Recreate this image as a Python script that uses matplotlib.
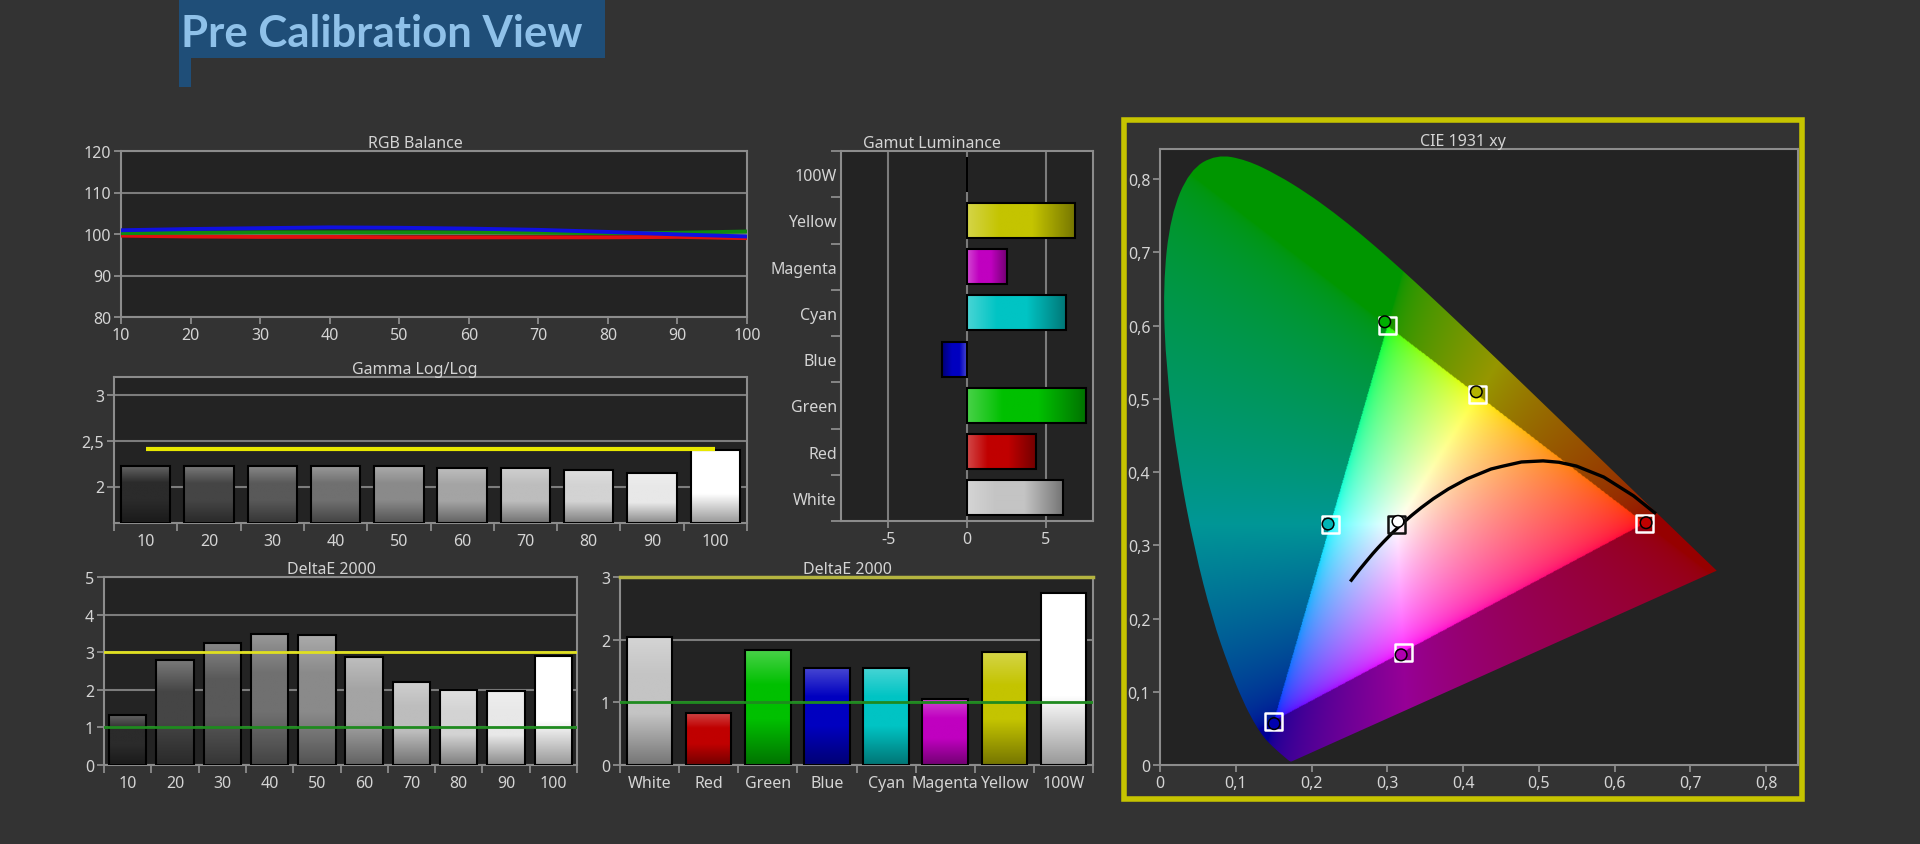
import numpy as np
import matplotlib
matplotlib.use('Agg')
import matplotlib.pyplot as plt
from matplotlib.patches import Rectangle, PathPatch
from matplotlib.path import Path
from matplotlib.colors import to_rgb
from matplotlib.ticker import FixedLocator, FuncFormatter

plt.rcParams['font.family'] = ['Noto Sans', 'DejaVu Sans']
plt.rcParams['axes.unicode_minus'] = False

# ---------------- data ----------------
rgb_x = [10, 20, 30, 40, 50, 60, 70, 80, 90, 100]
rgb_red = [99.6, 99.4, 99.3, 99.3, 99.2, 99.2, 99.2, 99.2, 99.3, 99.0]
rgb_green = [100.2, 100.3, 100.4, 100.4, 100.4, 100.4, 100.3, 100.2, 100.3, 100.6]
rgb_blue = [100.9, 101.2, 101.4, 101.6, 101.5, 101.3, 101.0, 100.5, 99.9, 99.4]

gray_labels = ['10', '20', '30', '40', '50', '60', '70', '80', '90', '100']
gray_colors = ['#2b2b2b', '#454545', '#595959', '#707070', '#8a8a8a',
               '#a4a4a4', '#bdbdbd', '#d3d3d3', '#e8e8e8', '#ffffff']
gamma_values = [2.23, 2.22, 2.22, 2.22, 2.22, 2.20, 2.20, 2.185, 2.15, 2.395]
gamma_target = 2.41

gamut_labels = ['100W', 'Yellow', 'Magenta', 'Cyan', 'Blue', 'Green', 'Red', 'White']
gamut_values = [0.0, 6.86, 2.53, 6.3, -1.57, 7.55, 4.37, 6.07]
gamut_colors = ['#ffffff', '#c4c400', '#c000c0', '#00c4c4', '#0000c0', '#00c000', '#c00000', '#c4c4c4']

de_gray_values = [1.34, 2.79, 3.25, 3.49, 3.46, 2.87, 2.21, 2.00, 1.97, 2.90]

de_color_labels = ['White', 'Red', 'Green', 'Blue', 'Cyan', 'Magenta', 'Yellow', '100W']
de_color_values = [2.05, 0.83, 1.83, 1.55, 1.55, 1.06, 1.81, 2.75]
de_color_colors = ['#c4c4c4', '#c00000', '#00c000', '#0000c0', '#00c4c4', '#c000c0', '#c4c400', '#ffffff']

de_limit_high = 3
de_limit_low = 1

# CIE 1931 spectral locus (380-700 nm)
locus_x = [0.1741, 0.1738, 0.1733, 0.1726, 0.1714, 0.1689, 0.1644, 0.1566, 0.1440, 0.1355,
           0.1241, 0.1096, 0.0913, 0.0687, 0.0454, 0.0235, 0.0082, 0.0039, 0.0139, 0.0389,
           0.0743, 0.1142, 0.1547, 0.1929, 0.2296, 0.2658, 0.3016, 0.3373, 0.3731, 0.4087,
           0.4441, 0.4788, 0.5125, 0.5448, 0.5752, 0.6029, 0.6270, 0.6482, 0.6658, 0.6801,
           0.6915, 0.7006, 0.7079, 0.7140, 0.7190, 0.7230, 0.7260, 0.7300, 0.7320, 0.7347]
locus_y = [0.0050, 0.0049, 0.0048, 0.0048, 0.0051, 0.0069, 0.0109, 0.0177, 0.0297, 0.0399,
           0.0578, 0.0868, 0.1327, 0.2007, 0.2950, 0.4127, 0.5384, 0.6548, 0.7502, 0.8120,
           0.8338, 0.8262, 0.8059, 0.7816, 0.7543, 0.7243, 0.6923, 0.6589, 0.6245, 0.5896,
           0.5547, 0.5202, 0.4866, 0.4544, 0.4242, 0.3965, 0.3725, 0.3514, 0.3340, 0.3197,
           0.3083, 0.2993, 0.2920, 0.2859, 0.2809, 0.2770, 0.2740, 0.2700, 0.2680, 0.2653]

# Planckian locus (1000 K ... 25000 K)
planck_x = [0.6528, 0.6251, 0.5857, 0.5496, 0.5267, 0.5056, 0.4770, 0.4520, 0.4369, 0.4053,
            0.3805, 0.3608, 0.3451, 0.3325, 0.3221, 0.3135, 0.3064, 0.2952, 0.2869, 0.2807,
            0.2722, 0.2637, 0.2565, 0.2525]
planck_y = [0.3444, 0.3674, 0.3931, 0.4081, 0.4133, 0.4152, 0.4137, 0.4079, 0.4041, 0.3907,
            0.3768, 0.3636, 0.3516, 0.3411, 0.3318, 0.3236, 0.3166, 0.3048, 0.2956, 0.2884,
            0.2779, 0.2672, 0.2577, 0.2523]

point_names = ['Red', 'Green', 'Blue', 'Cyan', 'Magenta', 'Yellow', 'White']
target_x = [0.640, 0.300, 0.150, 0.2247, 0.3209, 0.4193, 0.3127]
target_y = [0.330, 0.600, 0.060, 0.3287, 0.1542, 0.5053, 0.3290]
measured_x = [0.6415, 0.2966, 0.1506, 0.2218, 0.3182, 0.4174, 0.3141]
measured_y = [0.3308, 0.6051, 0.0565, 0.3290, 0.1504, 0.5095, 0.3326]
point_colors = ['#c00000', '#00b000', '#0000b0', '#00b4b4', '#b000b0', '#b4b400', '#ffffff']
target_edge = ['#ffffff', '#ffffff', '#ffffff', '#ffffff', '#ffffff', '#ffffff', '#111111']

# ---------------- style ----------------
W, H = 1920, 845
BG = '#333333'
AXBG = '#232323'
SPINE = '#8c8c8c'
GRID = '#7c7c7c'
TXT = '#d4d4d4'
TICK_FS = 11.5
TITLE_FS = 11.5

fig = plt.figure(figsize=(W / 100, H / 100), dpi=100, facecolor=BG)


def rect(x0, x1, yt, yb):
    return [x0 / W, 1 - yb / H, (x1 - x0) / W, (yb - yt) / H]


def style(ax, title):
    ax.set_facecolor(AXBG)
    for s in ax.spines.values():
        s.set_color(SPINE)
        s.set_linewidth(1.5)
    ax.tick_params(which='both', colors=SPINE, labelcolor=TXT, labelsize=TICK_FS,
                   direction='out', length=5, width=1.3, pad=2)
    ax.set_title(title, color=TXT, fontsize=TITLE_FS, pad=3)
    ax.set_axisbelow(True)


def comma(v, pos=None):
    return ('%g' % v).replace('.', ',')


def gradient_bars(ax, patches, colors, horizontal=False):
    t = np.linspace(0, 1, 96)
    for p, c in zip(patches, colors):
        base = np.array(to_rgb(c))
        light = base + (1 - base) * 0.28
        dark = base * 0.6
        cols = np.empty((t.size, 3))
        for k in range(3):
            cols[:, k] = np.interp(t, [0, 0.3, 0.6, 1], [light[k], base[k], base[k], dark[k]])
        bb = p.get_bbox()
        if bb.width == 0 or bb.height == 0:
            continue
        img = cols[None, :, :] if horizontal else cols[:, None, :]
        ax.imshow(img, extent=(bb.x0, bb.x1, bb.y0, bb.y1), origin='upper', aspect='auto',
                  zorder=2.5, interpolation='bilinear')


def category_axis(axis, n):
    axis.set_major_locator(FixedLocator(np.arange(n)))
    axis.set_minor_locator(FixedLocator(np.arange(n + 1) - 0.5))


def smooth_closed_path(xs, ys):
    pts = np.c_[xs, ys]
    verts = [pts[0]]
    codes = [Path.MOVETO]
    for i in range(1, len(pts) - 1):
        mid = (pts[i] + pts[i + 1]) / 2
        if i == len(pts) - 2:
            mid = pts[i + 1]
        verts += [pts[i], mid]
        codes += [Path.CURVE3, Path.CURVE3]
    verts.append(pts[0])
    codes.append(Path.LINETO)
    verts.append(pts[0])
    codes.append(Path.CLOSEPOLY)
    return Path(verts, codes)


# ---------------- title banner ----------------
fig.add_artist(Rectangle((179 / W, 1 - 59 / H), (605 - 179) / W, 58 / H,
                         transform=fig.transFigure, facecolor='#1f4e78', edgecolor='none'))
fig.add_artist(Rectangle((179 / W, 1 - 88 / H), 12 / W, 30 / H,
                         transform=fig.transFigure, facecolor='#1f4e78', edgecolor='none'))
fig.text(181 / W, 1 - 47 / H, 'Pre Calibration View', color='#8fc1e9', fontsize=31.5,
         fontweight='bold', family=['Lato', 'DejaVu Sans'], va='baseline', ha='left')

axes_list = []

# ---------------- RGB Balance ----------------
ax = fig.add_axes(rect(121, 747, 152, 318))
axes_list.append(ax)
style(ax, 'RGB Balance')
ax.plot(rgb_x, rgb_red, color='#e01010', lw=2.8, zorder=3)
ax.plot(rgb_x, rgb_green, color='#108a10', lw=2.8, zorder=3)
ax.plot(rgb_x, rgb_blue, color='#1010e0', lw=2.8, zorder=3)
ax.set_xlim(10, 100)
ax.set_ylim(80, 120)
ax.set_xticks(rgb_x)
ax.set_yticks([80, 90, 100, 110, 120])
ax.yaxis.grid(True, color=GRID, lw=1.5)

# ---------------- Gamma ----------------
ax = fig.add_axes(rect(114, 747, 378, 524))
axes_list.append(ax)
style(ax, 'Gamma Log/Log')
ymin = 1.6
pos = np.arange(len(gray_labels))
bars = ax.bar(pos, np.array(gamma_values) - ymin, bottom=ymin, width=0.78,
              facecolor='none', edgecolor='black', lw=1.5, zorder=3)
gradient_bars(ax, bars.patches, gray_colors)
ax.plot([pos[0], pos[-1]], [gamma_target, gamma_target], color='#e8e800', lw=3, zorder=4,
        solid_capstyle='butt')
category_axis(ax.xaxis, len(gray_labels))
ax.set_xticklabels(gray_labels)
ax.tick_params(axis='x', which='major', length=0, pad=7)
ax.tick_params(axis='x', which='minor', length=6)
ax.set_yticks([2, 2.5, 3])
ax.yaxis.set_major_formatter(FuncFormatter(comma))
ax.yaxis.grid(True, color=GRID, lw=1.5)
ax.set_xlim(-0.5, len(gray_labels) - 0.5)
ax.set_ylim(ymin, 3.2)

# ---------------- Gamut Luminance ----------------
ax = fig.add_axes(rect(841, 1093, 152, 522))
axes_list.append(ax)
style(ax, 'Gamut Luminance')
pos = np.arange(len(gamut_labels))
bars = ax.barh(pos, gamut_values, height=0.76, facecolor='none', edgecolor='black',
               lw=1.5, zorder=3)
gradient_bars(ax, bars.patches, gamut_colors, horizontal=True)
category_axis(ax.yaxis, len(gamut_labels))
ax.set_yticklabels(gamut_labels)
ax.tick_params(axis='y', which='major', length=0, pad=3)
ax.tick_params(axis='y', which='minor', length=7)
ax.set_xticks([-5, 0, 5])
ax.xaxis.grid(True, color=GRID, lw=1.5)
ax.set_xlim(-8, 8)
ax.set_ylim(len(gamut_labels) - 0.5, -0.5)

# ---------------- DeltaE grayscale ----------------
ax = fig.add_axes(rect(104, 577, 578, 766))
axes_list.append(ax)
style(ax, 'DeltaE 2000')
pos = np.arange(len(gray_labels))
bars = ax.bar(pos, de_gray_values, width=0.79, facecolor='none', edgecolor='black',
              lw=1.5, zorder=3)
gradient_bars(ax, bars.patches, gray_colors)
ax.axhline(de_limit_high, color='#e0e020', lw=2, zorder=4)
ax.axhline(de_limit_low, color='#1f8a1f', lw=2, zorder=4)
category_axis(ax.xaxis, len(gray_labels))
ax.set_xticklabels(gray_labels)
ax.tick_params(axis='x', which='major', length=0, pad=7)
ax.tick_params(axis='x', which='minor', length=6)
ax.set_yticks([0, 1, 2, 3, 4, 5])
ax.yaxis.grid(True, color=GRID, lw=1.5)
ax.set_xlim(-0.5, len(gray_labels) - 0.5)
ax.set_ylim(0, 5)

# ---------------- DeltaE colours ----------------
ax = fig.add_axes(rect(620, 1093, 578, 766))
axes_list.append(ax)
style(ax, 'DeltaE 2000')
pos = np.arange(len(de_color_labels))
bars = ax.bar(pos, de_color_values, width=0.77, facecolor='none', edgecolor='black',
              lw=1.5, zorder=3)
gradient_bars(ax, bars.patches, de_color_colors)
ax.axhline(de_limit_high, color='#b4b440', lw=2.5, zorder=5, clip_on=False)
ax.axhline(de_limit_low, color='#1f8a1f', lw=2, zorder=4)
category_axis(ax.xaxis, len(de_color_labels))
ax.set_xticklabels(de_color_labels)
ax.tick_params(axis='x', which='major', length=0, pad=7)
ax.tick_params(axis='x', which='minor', length=6)
ax.set_yticks([0, 1, 2, 3])
ax.yaxis.grid(True, color=GRID, lw=1.5)
ax.set_xlim(-0.5, len(de_color_labels) - 0.5)
ax.set_ylim(0, 3)

# ---------------- CIE 1931 ----------------
fig.add_artist(Rectangle((1124 / W, 1 - 800 / H), (1802 - 1124) / W, (800 - 121) / H,
                         transform=fig.transFigure, facecolor='none',
                         edgecolor='#c6c400', lw=4))
ax = fig.add_axes(rect(1160, 1798, 150, 766))
axes_list.append(ax)
style(ax, 'CIE 1931 xy')
XMAX, YMAX = 0.842, 0.841
xs = np.linspace(0, XMAX, 800)
ys = np.linspace(0, YMAX, 800)
GX, GY = np.meshgrid(xs, ys)
Ys = np.maximum(GY, 1e-3)
XYZ = np.stack([GX / Ys, np.ones_like(GX), (1 - GX - GY) / Ys], axis=-1)
M = np.array([[3.2406, -1.5372, -0.4986],
              [-0.9689, 1.8758, 0.0415],
              [0.0557, -0.2040, 1.0570]])
lin = XYZ @ M.T
tri = Path(np.c_[target_x[:3], target_y[:3]])
inside = tri.contains_points(np.c_[GX.ravel(), GY.ravel()]).reshape(GX.shape)
col = np.clip(lin, 0, None)
col = col / np.maximum(col.max(axis=-1, keepdims=True), 1e-6)
col = col ** (1 / 2.2)
col[~inside] *= 0.59
locus_patch = PathPatch(smooth_closed_path(locus_x, locus_y), facecolor='none',
                        edgecolor='none', transform=ax.transData)
ax.add_patch(locus_patch)
im = ax.imshow(col, origin='lower', extent=(0, XMAX, 0, YMAX), aspect='auto',
               interpolation='bilinear', zorder=1)
im.set_clip_path(locus_patch)
ax.plot(planck_x, planck_y, color='black', lw=2.4, zorder=3)
ax.scatter(target_x, target_y, marker='s', s=150, facecolors='none',
           edgecolors=target_edge, linewidths=1.8, zorder=4)
ax.scatter(measured_x, measured_y, marker='o', s=70, c=point_colors,
           edgecolors='black', linewidths=1.1, zorder=5)
ax.set_xticks(np.arange(0, 0.81, 0.1))
ax.set_yticks(np.arange(0, 0.81, 0.1))
fmt = FuncFormatter(lambda v, p: '0' if abs(v) < 1e-9 else ('%.1f' % v).replace('.', ','))
ax.xaxis.set_major_formatter(fmt)
ax.yaxis.set_major_formatter(fmt)
ax.set_xlim(0, XMAX)
ax.set_ylim(0, YMAX)

# centre each title over the axes plus its y tick labels
fig.canvas.draw()
renderer = fig.canvas.get_renderer()
for a in axes_list:
    left = min(t.get_window_extent(renderer).x0 for t in a.get_yticklabels() if t.get_text())
    right = a.bbox.x1
    cx = (left + right) / 2
    a.title.set_x((cx - a.bbox.x0) / a.bbox.width)

fig.savefig('out.png', dpi=100, facecolor=BG)
